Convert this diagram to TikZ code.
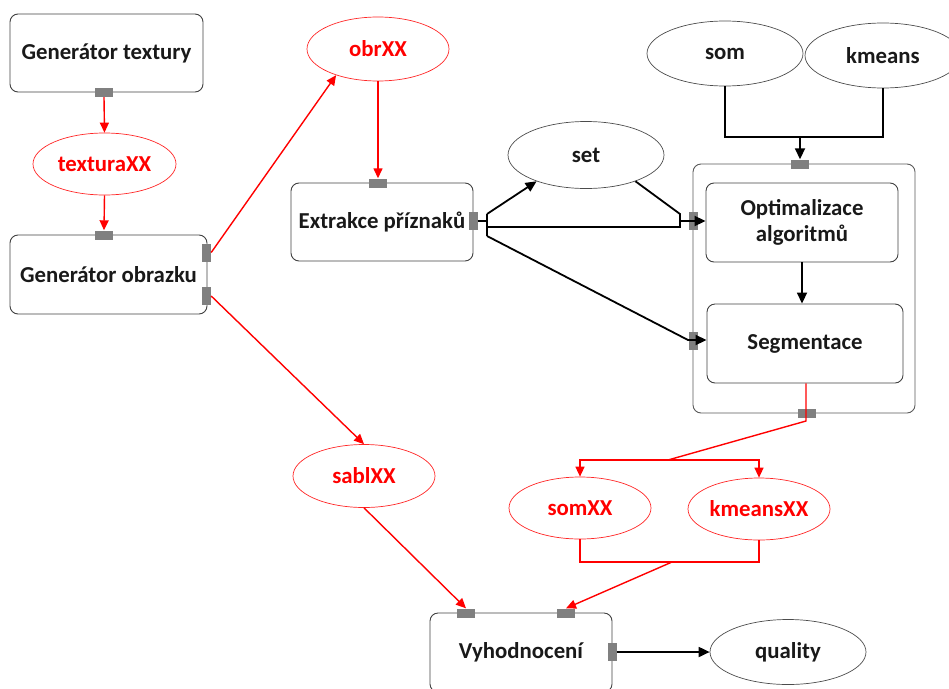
\documentclass[tikz,border=0pt]{standalone}
\usepackage{fontspec}
\setmainfont{Carlito}
\usetikzlibrary{shapes.geometric,arrows.meta}
\definecolor{portgray}{HTML}{808080}
\definecolor{edgegray}{HTML}{404040}
\tikzset{
  lbl/.style={font=\fontsize{22.8}{26}\selectfont\bfseries},
  box/.style={lbl, draw=edgegray, line width=0.9pt, rounded corners=8pt,
    inner sep=0pt, align=center, text=black!90},
  ell/.style={lbl, ellipse, draw=black!70, line width=0.7pt, inner sep=0pt, text=black!90},
  rell/.style={lbl, ellipse, draw=red!85, line width=0.7pt, inner sep=0pt, text=red},
  hport/.style={fill=portgray, draw=none, minimum width=18pt, minimum height=9pt, inner sep=0pt},
  vport/.style={fill=portgray, draw=none, minimum width=9pt, minimum height=18pt, inner sep=0pt},
  rline/.style={draw=red, line width=1.4pt},
  rarrow/.style={rline, -{Triangle[length=10pt,width=9pt]}},
  bline/.style={draw=black, line width=1.8pt},
  barrow/.style={bline, -{Triangle[length=11pt,width=10pt]}},
}
\begin{document}
\begin{tikzpicture}[x=1pt,y=-1pt]
\useasboundingbox (0,0) rectangle (949,688);
\clip (0,0) rectangle (949,688);

% process boxes
\node[box, minimum width=193pt, minimum height=78pt] (gt) at (106.5,53) {Generátor textury};
\node[box, minimum width=197pt, minimum height=79pt] (go) at (108.5,274.5) {Generátor obrazku};
\node[box, minimum width=182pt, minimum height=78pt] (ex) at (382,222) {Extrakce příznaků};
\node[box, draw=black!65, minimum width=222pt, minimum height=249pt] (cont) at (804,288.5) {};
\node[box, minimum width=192pt, minimum height=79pt] (opt) at (802,222.5) {Optimalizace\\algoritmů};
\node[box, minimum width=196pt, minimum height=79pt] (seg) at (805,343.5) {Segmentace};
\node[box, minimum width=182pt, minimum height=79pt] (vy) at (521,652.5) {Vyhodnocení};

% data ellipses
\node[rell, minimum width=143pt, minimum height=62pt] (tex) at (104.5,164) {texturaXX};
\node[rell, minimum width=142pt, minimum height=64pt] (obr) at (378,49) {obrXX};
\node[rell, minimum width=142pt, minimum height=63pt] (sabl) at (364,476) {sablXX};
\node[rell, minimum width=142pt, minimum height=62pt] (somxx) at (580,508) {somXX};
\node[rell, minimum width=142pt, minimum height=62pt] (kmxx) at (759,509) {kmeansXX};
\node[ell, minimum width=156pt, minimum height=67pt] (set) at (586,155) {set};
\node[ell, minimum width=156pt, minimum height=65pt] (som) at (725,53.5) {som};
\node[ell, minimum width=156pt, minimum height=65pt] (km) at (883,55.5) {kmeans};
\node[ell, minimum width=156pt, minimum height=65pt] (qual) at (788,652) {quality};

% ports
\node[hport] (pgt) at (104,92.5) {};
\node[hport] (pgot) at (104,235) {};
\node[vport] (pgor1) at (206.5,252.5) {};
\node[vport] (pgor2) at (206.5,296) {};
\node[hport] (pext) at (378,183) {};
\node[vport] (pexr) at (473,221) {};
\node[hport] (pct) at (800,164) {};
\node[vport] (pcl1) at (693,221) {};
\node[vport] (pcl2) at (693,341) {};
\node[hport] (pcb) at (807,413.5) {};
\node[hport] (pvy1) at (466,613) {};
\node[hport] (pvy2) at (566,613) {};
\node[vport] (pvyr) at (612,652) {};

% junction points
\coordinate (sk) at (800,137);
\coordinate (eb) at (487,221);
\coordinate (e1) at (487,214);
\coordinate (e2) at (487,227);
\coordinate (e3) at (487,236);
\coordinate (m1) at (680,214);
\coordinate (m2) at (680,227);
\coordinate (mo) at (680,221);
\coordinate (sd) at (688,340);
\coordinate (sb) at (806,421);
\coordinate (br) at (668,460);
\coordinate (mj) at (672,562);

% data flow (red)
\draw[rarrow] (pgt.south) -- (tex.north);
\draw[rarrow] (tex.south) -- (pgot.north);
\draw[rarrow] (pgor1.east) -- (obr.212);
\draw[rarrow] (obr.south) -- (pext.north);
\draw[rarrow] (pgor2.east) -- (sabl.north);
\draw[rarrow] (sabl.south) -- (pvy1.north);
\draw[rline] (seg.south -| sb) -- (sb) -- (br);
\draw[rarrow] (br) -| (somxx.north);
\draw[rarrow] (br) -| (kmxx.north);
\draw[rline] (somxx.south) |- (mj);
\draw[rline] (kmxx.south) |- (mj);
\draw[rarrow] (mj) -- (pvy2.north);

% control flow (black)
\draw[bline] (som.south) |- (sk);
\draw[bline] (km.south) |- (sk);
\draw[barrow] (sk) -- (pct.north);
\draw[bline] (pexr.east) -- (eb);
\draw[bline] (e1) -- (e3);
\draw[barrow] (e1) -- (set.208);
\draw[bline] (e2) -- (m2) -- (m1) -- (set.-28);
\draw[barrow] (mo) -- (mo -| opt.west);
\draw[barrow] (e3) -- (sd) -- (sd -| seg.west);
\draw[barrow] (opt.south) -- (opt.south |- seg.north);
\draw[barrow] (pvyr.east) -- (qual.west);
\end{tikzpicture}
\end{document}
